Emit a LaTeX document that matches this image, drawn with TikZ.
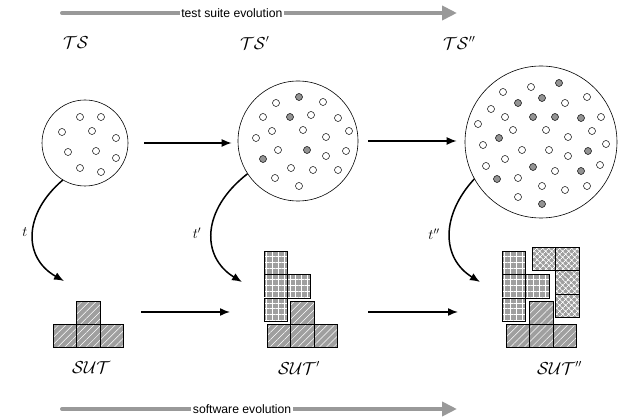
\documentclass[tikz,border=0pt]{standalone}
\usepackage{fontspec}
\setsansfont{Liberation Sans}
\usetikzlibrary{arrows.meta,patterns.meta}

\begin{document}
\begin{tikzpicture}[x=1pt, y=-1pt,
	pool/.style = {draw, circle, line width=0.6pt, inner sep=0},
	tc/.style = {draw, circle, line width=0.5pt, inner sep=0, minimum size=7pt, fill=white},
	hit/.style = {tc, fill=gray!85},
	flow/.style = {line width=1.5pt, -{Latex[length=10pt,width=8pt]}},
	evo/.style = {line width=4pt, line cap=round, gray!80, -{Triangle[length=15pt,width=14pt]}},
	evotext/.style = {fill=white, text=black, inner sep=1.5pt, font=\sffamily\fontsize{12.2}{14}\selectfont},
	lab/.style = {anchor=west, inner sep=0, font=\fontsize{16}{18}\selectfont},
	tlab/.style = {font=\fontsize{14}{16}\selectfont},
	mod/.style = {draw, line width=0.6pt, minimum size=23.3pt, inner sep=0, anchor=north west, preaction={fill=gray!75}, pattern color=white},
	coremod/.style = {mod, pattern={Lines[angle=45,distance=5pt,line width=0.5pt]}},
	gridmod/.style = {mod, pattern={Hatch[angle=0,distance=5.8pt,line width=0.7pt]}},
	crossmod/.style = {mod, pattern={Hatch[angle=45,distance=4pt,line width=0.7pt]}}]

	\useasboundingbox (0,0) rectangle (619,419);

	% evolution axes
	\coordinate (tsa) at (62,13);
	\coordinate (tsb) at (457,13);
	\draw[evo] (tsa) -- node[evotext, pos=0.43] (tsevo) {test suite evolution} (tsb);
	\coordinate (swa) at (62,409);
	\coordinate (swb) at (457,409);
	\draw[evo] (swa) -- node[evotext, pos=0.456] (swevo) {software evolution} (swb);

	% test suites
	\node[lab] (l0) at (63,43) {$\mathcal{TS}$};
	\node[lab] (l1) at (240,43) {$\mathcal{TS}'$};
	\node[lab] (l2) at (443,43) {$\mathcal{TS}''$};

	\node[pool, minimum size=86pt] (ts0) at (85,143) {};
	\node[pool, minimum size=120pt] (ts1) at (298,141) {};
	\node[pool, minimum size=152pt] (ts2) at (541,142) {};

	\foreach \p [count=\k] in {(80,117),(101,117),(62,132),(92,131),(116,138),(68,152),(96,151),(116,158),(80,168),(101,172)}
		\node[tc] (a\k) at \p {};

	\foreach \p [count=\k] in {(276,103),(323,102),(263,117),(311,115),(338,118),(272,131),(303,130),(326,137),(349,131),(256,138),(278,150),(326,156),(346,151),(291,168),(313,170),(338,170),(275,178),(299,186)}
		\node[tc] (b\k) at \p {};
	\foreach \p [count=\k] in {(299,97),(290,117),(307,150),(263,159)}
		\node[hit] (bh\k) at \p {};

	\foreach \p [count=\k] in {(503,92),(531,87),(587,97),(565,103),(491,109),(505,117),(601,117),(478,124),(513,130),(546,130),(592,131),(568,137),(606,144),(483,145),(522,150),(549,150),(568,156),(505,159),(486,166),(600,165),(555,171),(518,178),(542,186),(565,190),(587,186),(518,197)}
		\node[tc] (c\k) at \p {};
	\foreach \p [count=\k] in {(559,83),(518,103),(542,98),(533,117),(555,117),(581,118),(499,138),(588,151),(533,167),(581,171),(497,179),(542,204)}
		\node[hit] (ch\k) at \p {};

	\draw[flow, shorten <=16pt, shorten >=6pt] (ts0.east) -- (ts0.east -| ts1.west);
	\draw[flow, shorten <=10pt, shorten >=8pt] (ts1.east) -- (ts1.east -| ts2.west);

	% tests run against the system
	\coordinate (d0) at (64,281);
	\coordinate (d1) at (242,282);
	\coordinate (d2) at (480,282);
	\draw[flow] (ts0.239) .. controls (23,214) and (23,258) .. (d0);
	\draw[flow] (ts1.213) .. controls (201,210) and (201,257) .. (d1);
	\draw[flow] (ts2.209) .. controls (441,215) and (441,258) .. (d2);
	\node[tlab] (t0) at (25,232) {$t$};
	\node[tlab] (t1) at (197,233) {$t'$};
	\node[tlab] (t2) at (434,234) {$t''$};

	% systems under test
	\foreach \p [count=\k] in {(53,324),(76.3,324),(99.6,324),(76.3,300.7)}
		\node[coremod] (s0-\k) at \p {};

	\foreach \p [count=\k] in {(267,324),(290.3,324),(313.6,324),(290.3,300.7)}
		\node[coremod] (s1-\k) at \p {};
	\foreach \p [count=\k] in {(263.5,251),(263.5,274.3),(263.5,297.6),(286.8,274.3)}
		\node[gridmod] (g1-\k) at \p {};

	\foreach \p [count=\k] in {(506,324),(529.3,324),(552.6,324),(529.3,300.7)}
		\node[coremod] (s2-\k) at \p {};
	\foreach \p [count=\k] in {(502,251),(502,274.3),(502,297.6),(525.3,274.3)}
		\node[gridmod] (g2-\k) at \p {};
	\foreach \p [count=\k] in {(532,247),(555.3,247),(555.3,270.3),(555.3,293.6)}
		\node[crossmod] (x2-\k) at \p {};

	\coordinate (m0) at (141,312);
	\coordinate (m1a) at (230,312);
	\coordinate (m1b) at (368,312);
	\coordinate (m2) at (458,312);
	\draw[flow] (m0) -- (m1a);
	\draw[flow] (m1b) -- (m2);

	\node[lab] (u0) at (72,368) {$\mathcal{SUT}$};
	\node[lab] (u1) at (278,368) {$\mathcal{SUT}'$};
	\node[lab] (u2) at (537,368) {$\mathcal{SUT}''$};
\end{tikzpicture}
\end{document}
